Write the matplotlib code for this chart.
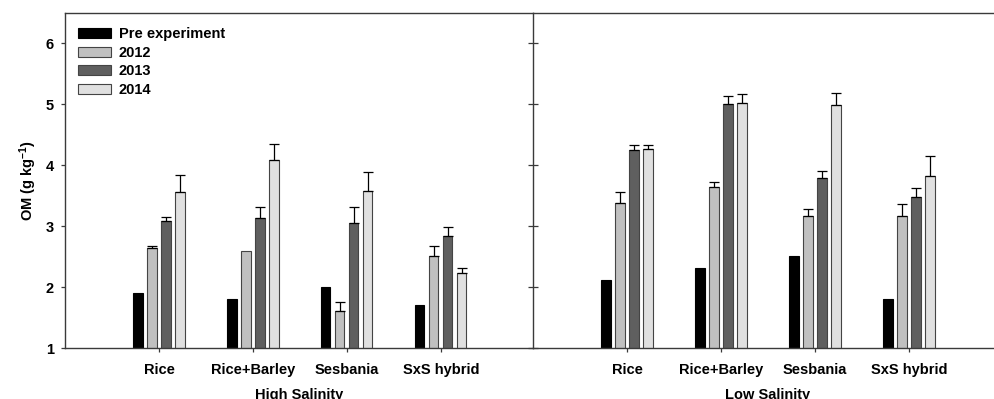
import matplotlib
matplotlib.use("Agg")
import matplotlib.pyplot as plt
import numpy as np

plt.rcParams['font.family'] = ['Liberation Sans', 'DejaVu Sans']
plt.rcParams['font.weight'] = 'bold'
plt.rcParams['mathtext.fontset'] = 'custom'
plt.rcParams['mathtext.rm'] = 'Liberation Sans:bold'
plt.rcParams['mathtext.default'] = 'rm'

categories = ["Rice", "Rice+Barley", "Sesbania", "SxS hybrid"]
series = ["Pre experiment", "2012", "2013", "2014"]
colors = ["#000000", "#c0c0c0", "#5f5f5f", "#e0e0e0"]

# High salinity
hs_values = {
    "Pre experiment": [1.90, 1.80, 2.00, 1.70],
    "2012": [2.64, 2.60, 1.60, 2.51],
    "2013": [3.09, 3.14, 3.05, 2.84],
    "2014": [3.56, 4.08, 3.57, 2.23],
}
hs_err = {
    "Pre experiment": [0, 0, 0, 0],
    "2012": [0.03, 0.0, 0.15, 0.16],
    "2013": [0.06, 0.18, 0.26, 0.15],
    "2014": [0.28, 0.27, 0.32, 0.08],
}
# Low salinity
ls_values = {
    "Pre experiment": [2.11, 2.31, 2.51, 1.80],
    "2012": [3.38, 3.64, 3.17, 3.17],
    "2013": [4.25, 5.01, 3.79, 3.48],
    "2014": [4.26, 5.03, 4.99, 3.82],
}
ls_err = {
    "Pre experiment": [0, 0, 0, 0],
    "2012": [0.18, 0.09, 0.12, 0.19],
    "2013": [0.09, 0.12, 0.11, 0.15],
    "2014": [0.08, 0.14, 0.19, 0.34],
}
panel_titles = ["High Salinity", "Low Salinity"]
yticks = [1, 2, 3, 4, 5, 6]

FS = 10.5
W, H = 995, 399
fig = plt.figure(figsize=(W / 100, H / 100), dpi=100)
ax1 = fig.add_axes([65 / W, (H - 348) / H, 468 / W, 335 / H])
ax2 = fig.add_axes([533 / W, (H - 348) / H, 470 / W, 335 / H])

spine_color = "#3a3a3a"
x = np.arange(1, len(categories) + 1)
step = 0.149
width = 0.097

for ax, vals, errs, title, xmax in [(ax1, hs_values, hs_err, panel_titles[0], 4.98),
                                    (ax2, ls_values, ls_err, panel_titles[1], 5.0)]:
    for i, s in enumerate(series):
        pos = x + (i - 1.5) * step
        ec = "#000000" if i == 0 else "#444444"
        e = np.array(errs[s])
        ax.bar(pos, vals[s], width, bottom=0, color=colors[i], edgecolor=ec,
               linewidth=0.8, label=s, zorder=2)
        mask = e > 0
        if mask.any():
            ax.errorbar(pos[mask], np.array(vals[s])[mask],
                        yerr=[np.zeros(mask.sum()), e[mask]],
                        fmt='none', ecolor='black', elinewidth=0.9,
                        capsize=3.6, capthick=0.9, zorder=3)
    ax.set_ylim(1, 6.5)
    ax.set_xlim(0, xmax)
    ax.set_xticks(x)
    ax.set_xticklabels(categories, fontsize=FS, fontweight='bold')
    ax.set_yticks(yticks)
    ax.set_xlabel(title, fontsize=FS, fontweight='bold', labelpad=7.5)
    for sp in ax.spines.values():
        sp.set_color(spine_color)
        sp.set_linewidth(1.0)
    ax.spines['right'].set_visible(False)
    ax.tick_params(axis='x', direction='out', length=3, width=0.9,
                   color=spine_color, pad=8)

ax1.set_yticklabels([str(t) for t in yticks], fontsize=FS, fontweight='bold')
ax1.tick_params(axis='y', direction='out', length=3, width=0.9,
                color=spine_color, pad=5)
ax1.set_ylabel(r'OM (g kg$^{-1}$)', fontsize=FS, fontweight='bold', labelpad=5)

ax2.tick_params(axis='y', direction='inout', length=6.5, width=0.9,
                color=spine_color, labelleft=False)

leg = ax1.legend(loc='upper left', bbox_to_anchor=(13 / 468, 1 - 14 / 335),
                 borderaxespad=0, borderpad=0, frameon=False,
                 handlelength=2.26, handleheight=0.68, handletextpad=0.55,
                 labelspacing=0.32, prop={'size': FS, 'weight': 'bold'})

fig.savefig("out.png", dpi=100)
